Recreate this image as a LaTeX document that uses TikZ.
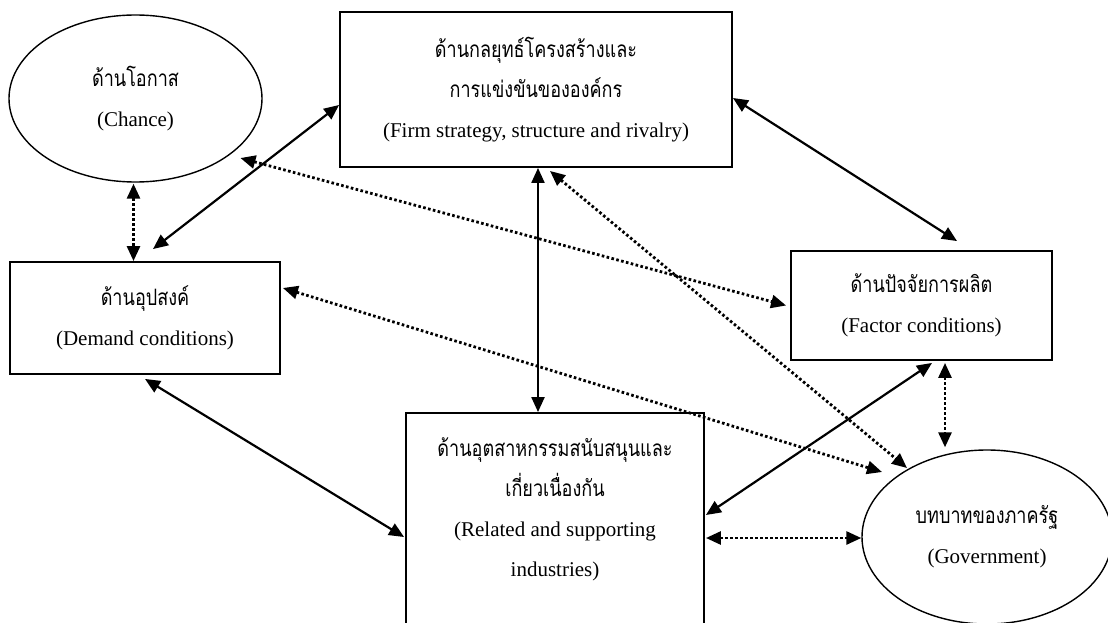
\documentclass[tikz,border=0pt]{standalone}
\usepackage{fontspec}
\usepackage{graphicx}
\setmainfont{Liberation Serif}
\newfontfamily\thaifont[Script=Thai,Scale=0.86]{Loma}
\newcommand{\thaitext}[1]{\scalebox{1}[1.25]{\thaifont #1}}
\usetikzlibrary{arrows.meta,shapes.geometric,calc}

\begin{document}
\begin{tikzpicture}[x=1pt,y=-1pt,
  txt/.style={font=\fontsize{21}{40}\selectfont, align=center},
  box/.style={txt, draw, line width=1.9pt, rectangle, inner sep=0pt},
  oval/.style={txt, draw, line width=1.4pt, ellipse, inner sep=0pt},
  solidlink/.style={line width=2.2pt,
    {Triangle[length=15pt,width=13pt]}-{Triangle[length=15pt,width=13pt]}},
  dotlink/.style={line width=2.8pt, dash pattern=on 2.6pt off 2.4pt,
    {Triangle[length=15pt,width=13pt]}-{Triangle[length=15pt,width=13pt]}},
]
\clip (0,0) rectangle (1108,623);
\fill[white] (0,0) rectangle (1108,623);

% the six determinants
\node[oval, minimum width=253pt, minimum height=167pt] (chance) at (135.5,98.5)
  {\thaitext{ด้านโอกาส}\\(Chance)};
\node[box, minimum width=392pt, minimum height=155pt] (firm) at (536,89.5)
  {\thaitext{ด้านกลยุทธ์โครงสร้างและ}\\\thaitext{การแข่งขันขององค์กร}\\(Firm strategy, structure and rivalry)};
\node[box, minimum width=270pt, minimum height=112pt] (dem) at (145,318)
  {\thaitext{ด้านอุปสงค์}\\(Demand conditions)};
\node[box, minimum width=261pt, minimum height=109pt] (fac) at (921.5,305.5)
  {\thaitext{ด้านปัจจัยการผลิต}\\(Factor conditions)};
\node[box, minimum width=298pt, minimum height=227pt] (rel) at (555,526.5) {};
\node[txt] (reltext) at (555,509.5)
  {\thaitext{ด้านอุตสาหกรรมสนับสนุนและ}\\\thaitext{เกี่ยวเนื่องกัน}\\(Related and supporting\\industries)};
\node[oval, minimum width=250pt, minimum height=174pt] (gov) at (987,537)
  {\thaitext{บทบาทของภาครัฐ}\\(Government)};

% solid links
\draw[solidlink] ($(dem.north)+(8,-12)$) -- ($(firm.west)+(0,15.5)$);
\draw[solidlink] ($(firm.east)+(0,8.5)$) -- ($(fac.north)+(35.5,-9)$);
\draw[solidlink] ($(firm.south)+(2,0)$) -- ($(firm.south |- rel.north)+(2,0)$);
\draw[solidlink] ($(dem.south)+(0,4)$) -- ($(rel.west)+(-1,10.5)$);
\draw[solidlink] ($(rel.east)+(1,-11.5)$) -- ($(fac.south)+(10.5,2)$);

% dotted links
\draw[dotlink] ($(chance.south)+(-2,1)$) -- ($(chance.south |- dem.north)+(-2,0)$);
\draw[dotlink] ($(chance.south east)+(15,0)$) -- ($(fac.west)+(-4,0)$);
\draw[dotlink] ($(firm.south)+(14,3)$) -- ($(gov.center)+(-80,-69)$);
\draw[dotlink] ($(dem.east)+(2,-30)$) -- ($(gov.center)+(-105,-65)$);
\draw[dotlink] ($(fac.south)+(23.5,2)$) -- ($(fac.south |- gov.north)+(23.5,-2)$);
\draw[dotlink] ($(rel.east |- gov.west)+(1,1)$) -- ($(gov.west)+(0,1)$);
\end{tikzpicture}
\end{document}
